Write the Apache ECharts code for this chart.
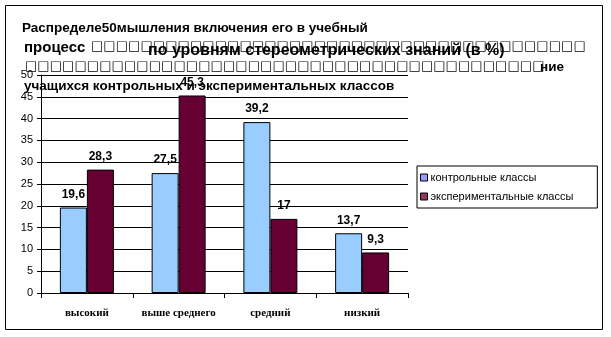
<!DOCTYPE html>
<html>
<head>
<meta charset="utf-8">
<script src="https://cdn.jsdelivr.net/npm/echarts@6/dist/echarts.min.js"></script>
<style>
  html, body { margin: 0; padding: 0; background: #fff; }
  #chart { width: 611px; height: 337px; }
</style>
</head>
<body>
<div id="chart"></div>
<script>
// Levels of knowledge and the share of students at each level (%)
const categories = ['высокий', 'выше среднего', 'средний', 'низкий'];
const controlValues = [19.6, 27.5, 39.2, 13.7];
const experimentalValues = [28.3, 45.3, 17, 9.3];
const seriesNames = ['контрольные классы', 'экспериментальные классы'];

// Heading pieces
const titleLine1 = 'Распределе50мышления включения его в учебный';
const titleLine2 = 'процесс';
const titleLine2Boxes = '□'.repeat(40);
const titleLine3Boxes = '□'.repeat(42);
const titleLine3 = 'ние';
const titleLine4 = 'учащихся контрольных и экспериментальных классов';
const subtitle = 'по уровням стереометрических знаний (в %)';

const yMin = 0, yMax = 50, yStep = 5;

const fmt = v => String(v).replace('.', ',');
const titleFont = 'bold 13.5px "Liberation Sans", Arial, sans-serif';
const wideTitleFont = 'bold 15px "Liberation Sans", Arial, sans-serif';
const subtitleFont = 'bold 16px "Liberation Sans", Arial, sans-serif';
const boxFont = 'normal 13.1px "DejaVu Sans", sans-serif';

const chart = echarts.init(document.getElementById('chart'), null, { renderer: 'canvas' });

function textEl(text, x, y, font) {
  return {
    type: 'text', z: 100, left: x, top: y,
    style: { text: text, font: font, fill: '#000', textVerticalAlign: 'middle' }
  };
}

chart.setOption({
  animation: false,
  backgroundColor: '#fff',
  grid: { left: 41, right: 203, top: 75, bottom: 44, containLabel: false },
  xAxis: {
    type: 'category',
    data: categories,
    axisLine: { show: true, lineStyle: { color: '#000', width: 1 } },
    axisTick: { show: true, length: 5, lineStyle: { color: '#000' } },
    axisLabel: {
      interval: 0, margin: 15, color: '#000',
      fontFamily: '"Liberation Serif", "Times New Roman", serif',
      fontWeight: 'bold', fontSize: 11
    }
  },
  yAxis: {
    type: 'value', min: yMin, max: yMax, interval: yStep,
    axisLine: { show: true, lineStyle: { color: '#000', width: 1 } },
    axisTick: { show: true, length: 4, lineStyle: { color: '#000' } },
    axisLabel: {
      margin: 8, color: '#000',
      fontFamily: '"Liberation Sans", Arial, sans-serif', fontSize: 11
    },
    splitLine: { show: true, lineStyle: { color: '#000', width: 1 } }
  },
  legend: {
    orient: 'vertical',
    left: 417, top: 166,
    padding: [6, 24, 6, 3],
    itemGap: 8,
    itemWidth: 7, itemHeight: 7,
    icon: 'rect',
    borderColor: '#000', borderWidth: 1,
    backgroundColor: '#fff',
    textStyle: { color: '#000', fontSize: 11, fontFamily: '"Liberation Sans", Arial, sans-serif', padding: [0, 0, 0, -2] },
    data: [
      { name: seriesNames[0], itemStyle: { color: '#9999FF', borderColor: '#000', borderWidth: 1 } },
      { name: seriesNames[1], itemStyle: { color: '#993366', borderColor: '#000', borderWidth: 1 } }
    ]
  },
  series: [
    {
      name: seriesNames[0], type: 'bar', data: controlValues,
      barWidth: 27, barGap: '0%',
      itemStyle: { color: '#99CCFF', borderColor: '#000', borderWidth: 1 },
      label: {
        show: true, position: 'top', distance: 7, color: '#000',
        fontFamily: '"Liberation Sans", Arial, sans-serif', fontWeight: 'bold', fontSize: 12,
        formatter: p => fmt(p.value)
      }
    },
    {
      name: seriesNames[1], type: 'bar', data: experimentalValues,
      barWidth: 27, barGap: '0%',
      itemStyle: { color: '#660033', borderColor: '#000', borderWidth: 1 },
      label: {
        show: true, position: 'top', distance: 7, color: '#000',
        fontFamily: '"Liberation Sans", Arial, sans-serif', fontWeight: 'bold', fontSize: 12,
        formatter: p => fmt(p.value)
      }
    }
  ],
  graphic: [
    {
      type: 'rect', z: 0, silent: true,
      shape: { x: 5.5, y: 5.5, width: 597, height: 324 },
      style: { fill: 'none', stroke: '#000', lineWidth: 1 }
    },
    textEl(titleLine1, 22, 21, titleFont),
    textEl(titleLine2, 24, 40, wideTitleFont),
    textEl(titleLine2Boxes, 91, 40, boxFont),
    textEl(subtitle, 148, 43, subtitleFont),
    textEl(titleLine3Boxes, 25, 60, boxFont),
    textEl(titleLine3, 540, 60, titleFont),
    textEl(titleLine4, 24, 79, titleFont)
  ]
});
</script>
</body>
</html>
